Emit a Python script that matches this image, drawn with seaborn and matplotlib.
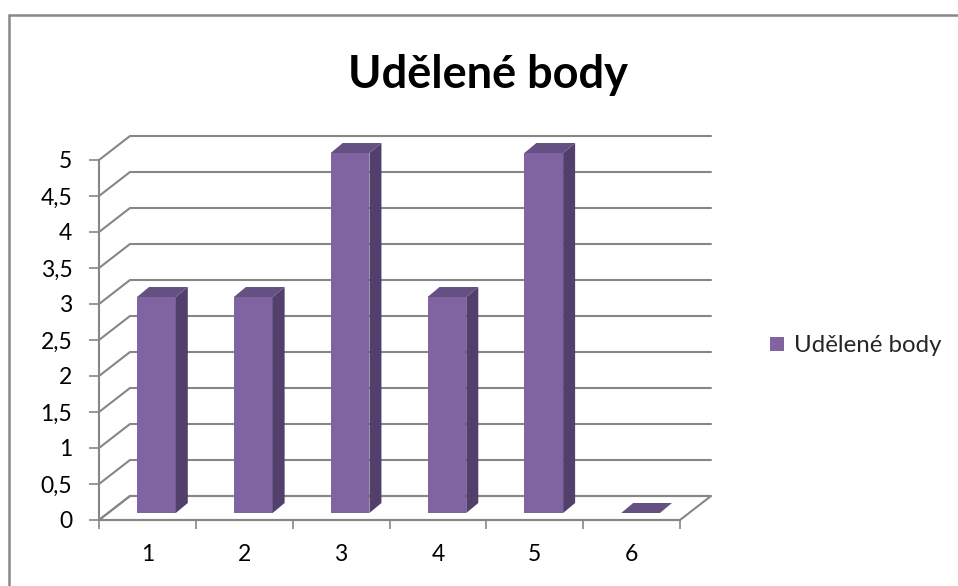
import matplotlib
matplotlib.use("Agg")
import matplotlib.pyplot as plt
import seaborn as sns
import numpy as np
from matplotlib.transforms import Affine2D, IdentityTransform
from matplotlib.patches import Polygon, Patch
from matplotlib.lines import Line2D

# ---- data ----
categories = ["1", "2", "3", "4", "5", "6"]
values = [3, 3, 5, 3, 5, 0]
series_name = "Udělené body"
title = "Udělené body"
ytick_values = [0, 0.5, 1, 1.5, 2, 2.5, 3, 3.5, 4, 4.5, 5]
ytick_labels = ["0", "0,5", "1", "1,5", "2", "2,5", "3", "3,5", "4", "4,5", "5"]

# ---- style ----
sns.set_theme(style="white")
plt.rcParams["font.family"] = ["Lato", "DejaVu Sans"]

FRONT = "#8064A2"
SIDE = "#523F6B"
TOP = "#655083"
GRID = "#868686"
TXT = 16.5

W, H = 958, 586
fig = plt.figure(figsize=(W / 100, H / 100), dpi=100)
ax = fig.add_axes([99 / W, (H - 520) / H, 581 / W, 360 / H])

bw = 0.4
sns.barplot(x=categories, y=values, color=FRONT, width=bw, ax=ax,
            saturation=1, zorder=5)
ax.set_xlim(-0.5, len(categories) - 0.5)
ax.set_ylim(0, 5)

# depth offsets (pixels)
back = np.array([31.0, 24.0])
fo = np.array([9.0, 7.0])
bo = np.array([21.0, 17.0])

def P(x, y, off=(0, 0)):
    return ax.transData.transform((x, y)) + np.asarray(off)

ident = IdentityTransform()
x0, x1 = -0.5, len(categories) - 0.5

bar_patches = list(ax.patches)

# floor
floor = Polygon([P(x0, 0), P(x1, 0), P(x1, 0, back), P(x0, 0, back)],
                closed=True, facecolor="white", edgecolor=GRID, lw=1.5,
                transform=ident, zorder=1, clip_on=False)
ax.add_artist(floor)

# back-wall gridlines
for v in ytick_values:
    a, b, c = P(x0, v), P(x0, v, back), P(x1, v, back)
    ax.add_artist(Line2D([a[0], b[0], c[0]], [a[1], b[1], c[1]], color=GRID,
                         lw=1.5, transform=ident, zorder=2, clip_on=False))

# shift seaborn's front faces into the depth, then add side and top faces
shift = ax.transData + Affine2D().translate(*fo)
for patch in bar_patches:
    patch.set_transform(shift)
    patch.set_edgecolor("none")
    patch.set_clip_on(False)

for i, v in enumerate(values):
    xl, xr = i - bw / 2, i + bw / 2
    side = Polygon([P(xr, 0, fo), P(xr, 0, bo), P(xr, v, bo), P(xr, v, fo)],
                   closed=True, facecolor=SIDE, edgecolor="none",
                   transform=ident, zorder=6, clip_on=False)
    top = Polygon([P(xl, v, fo), P(xr, v, fo), P(xr, v, bo), P(xl, v, bo)],
                  closed=True, facecolor=TOP, edgecolor="none",
                  transform=ident, zorder=6, clip_on=False)
    ax.add_artist(side)
    ax.add_artist(top)

# axes
for s in ["top", "right"]:
    ax.spines[s].set_visible(False)
for s in ["left", "bottom"]:
    ax.spines[s].set_color(GRID)
    ax.spines[s].set_linewidth(1.5)
    ax.spines[s].set_zorder(3)

ax.set_yticks(ytick_values)
ax.set_yticklabels(ytick_labels)
ax.set_xticks(np.arange(-0.5, len(categories), 1.0))
ax.set_xticklabels([])
ax.set_xticks(range(len(categories)), minor=True)
ax.set_xticklabels(categories, minor=True)
ax.tick_params(axis="y", which="major", direction="out", length=7.2,
               width=1.2, color=GRID, pad=12, labelsize=TXT, left=True,
               labelcolor="black")
ax.tick_params(axis="x", which="major", direction="out", length=6.5,
               width=1.2, color=GRID, bottom=True)
ax.tick_params(axis="x", which="minor", length=0, pad=17, labelsize=TXT,
               labelcolor="black")
ax.set_xlabel("")
ax.set_ylabel("")
ax.grid(False)
ax.patch.set_alpha(0)

# title
fig.text(487.5 / W, 1 - 88 / H, title, ha="center", va="baseline",
         fontsize=32.5, fontweight="bold", color="black")

# legend
fig.legend(handles=[Patch(facecolor=FRONT, edgecolor="none")],
           labels=[series_name], loc="center left",
           bbox_to_anchor=(760 / W, 1 - 346 / H), frameon=False,
           handlelength=0.58, handleheight=0.58, handletextpad=0.45,
           fontsize=17.3, borderaxespad=0)

# outer border
fig.add_artist(Line2D([9 / W, 1.0], [1 - 15 / H, 1 - 15 / H], color="#888888",
                      lw=1.8, transform=fig.transFigure))
fig.add_artist(Line2D([9 / W, 9 / W], [1 - 15 / H, 0], color="#888888",
                      lw=1.8, transform=fig.transFigure))

fig.savefig("out.png", dpi=100)
